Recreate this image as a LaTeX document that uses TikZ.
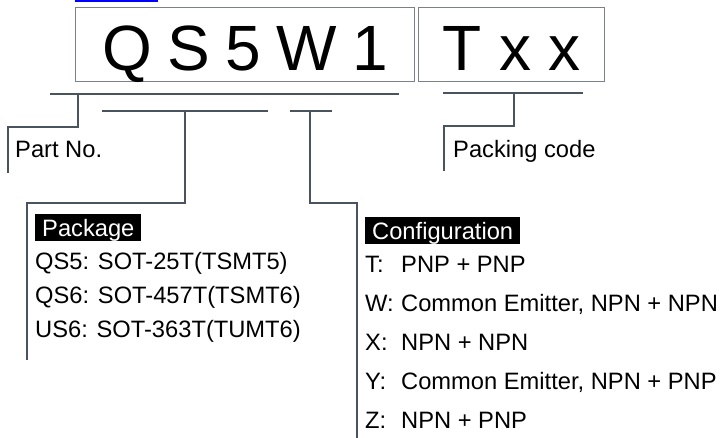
\documentclass[tikz,border=0pt]{standalone}
\usepackage{fontspec}
\setmainfont{Liberation Sans}
\definecolor{linecol}{HTML}{4A545E}
\definecolor{boxcol}{HTML}{7A8188}
\definecolor{linkblue}{HTML}{0000FF}
\newcommand{\gapsp}{\hspace{15.5pt}}
\begin{document}
\begin{tikzpicture}[x=1pt,y=-1pt,
  bracket/.style={draw=linecol,line width=2.4pt},
  codebox/.style={draw=boxcol,line width=1.1pt,anchor=north west,inner xsep=0pt,inner ysep=0pt,
     text height=63pt,text depth=11pt,font=\fontsize{64}{70}\selectfont},
  txt/.style={anchor=base west,inner sep=0pt,font=\fontsize{23.7}{28}\selectfont},
  tag/.style={anchor=north west,fill=black,text=white,inner xsep=7pt,inner ysep=0pt,
     text height=22pt,text depth=5pt,font=\fontsize{23.7}{28}\selectfont}]
\useasboundingbox (0,0) rectangle (727,438);
% blue link bar
\fill[linkblue] (75,0) rectangle (158,2.2);
% code boxes
\node[codebox,minimum width=339pt] (code) at (75,7) {Q\gapsp S\gapsp 5\gapsp W\gapsp 1\hspace{11pt}};
\node[codebox,minimum width=186pt] (pack) at (418,7) {T x x};
% brackets
\coordinate (a1) at (50,94);
\coordinate (a2) at (399,94);
\draw[bracket] (a1) -- (a2);
\draw[bracket] (78,94) -- (78,127) -- (8,127) -- (8,173);
\draw[bracket] (102,111) -- (268,111);
\draw[bracket] (185,111) -- (185,203) -- (27,203) -- (27,360);
\draw[bracket] (290,111) -- (332,111);
\draw[bracket] (310,111) -- (310,203) -- (357,203) -- (357,438);
\draw[bracket] (443,93) -- (583,93);
\draw[bracket] (514,93) -- (514,126) -- (444,126) -- (444,171);
% labels
\node[txt] (partno) at (15,158) {Part No.};
\node[txt] (packing) at (453,158) {Packing code};
\node[tag] (pkg) at (35,214) {Package\hspace{6pt}};
\node[txt] (p1) at (35,269) {QS5: SOT-25T(TSMT5)};
\node[txt] (p2) at (35,303) {QS6: SOT-457T(TSMT6)};
\node[txt] (p3) at (35,337) {US6: SOT-363T(TUMT6)};
\node[tag] (cfg) at (365,217) {Configuration\hspace{9pt}};
\node[txt] (c1) at (365,272) {\makebox[36pt][l]{T:}PNP + PNP};
\node[txt] (c2) at (365,311) {\makebox[36pt][l]{W:}Common Emitter, NPN + NPN};
\node[txt] (c3) at (365,350) {\makebox[36pt][l]{X:}NPN + NPN};
\node[txt] (c4) at (365,389) {\makebox[36pt][l]{Y:}Common Emitter, NPN + PNP};
\node[txt] (c5) at (365,428) {\makebox[36pt][l]{Z:}NPN + PNP};
\end{tikzpicture}
\end{document}
